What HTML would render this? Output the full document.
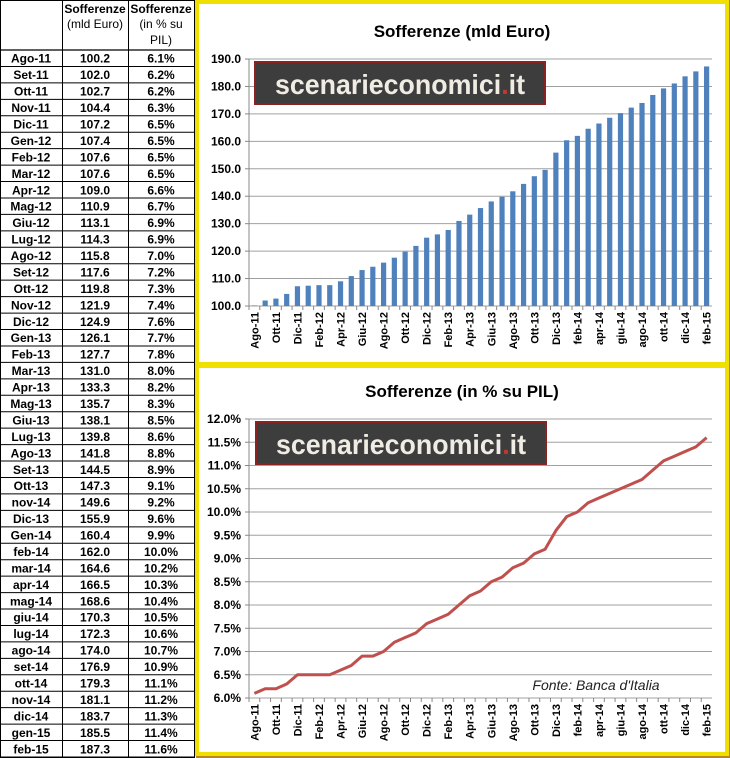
<!DOCTYPE html>
<html><head><meta charset="utf-8"><style>
body{margin:0;width:730px;height:758px;overflow:hidden;background:#fff;font-family:"Liberation Sans",Arial,sans-serif}
svg{position:absolute;left:0;top:0}
</style></head><body>
<svg id="s" width="730" height="758" xmlns="http://www.w3.org/2000/svg"></svg>
<script>
const months=["Ago-11","Set-11","Ott-11","Nov-11","Dic-11","Gen-12","Feb-12","Mar-12","Apr-12","Mag-12","Giu-12","Lug-12","Ago-12","Set-12","Ott-12","Nov-12","Dic-12","Gen-13","Feb-13","Mar-13","Apr-13","Mag-13","Giu-13","Lug-13","Ago-13","Set-13","Ott-13","nov-14","Dic-13","Gen-14","feb-14","mar-14","apr-14","mag-14","giu-14","lug-14","ago-14","set-14","ott-14","nov-14","dic-14","gen-15","feb-15"];
const axisLabels=["Ago-11","Set-11","Ott-11","Nov-11","Dic-11","Gen-12","Feb-12","Mar-12","Apr-12","Mag-12","Giu-12","Lug-12","Ago-12","Set-12","Ott-12","Nov-12","Dic-12","Gen-13","Feb-13","Mar-13","Apr-13","Mag-13","Giu-13","Lug-13","Ago-13","Set-13","Ott-13","Nov-13","Dic-13","Gen-14","feb-14","mar-14","apr-14","mag-14","giu-14","lug-14","ago-14","set-14","ott-14","nov-14","dic-14","gen-15","feb-15"];
const euro=[100.2,102.0,102.7,104.4,107.2,107.4,107.6,107.6,109.0,110.9,113.1,114.3,115.8,117.6,119.8,121.9,124.9,126.1,127.7,131.0,133.3,135.7,138.1,139.8,141.8,144.5,147.3,149.6,155.9,160.4,162.0,164.6,166.5,168.6,170.3,172.3,174.0,176.9,179.3,181.1,183.7,185.5,187.3];
const pil=[6.1,6.2,6.2,6.3,6.5,6.5,6.5,6.5,6.6,6.7,6.9,6.9,7.0,7.2,7.3,7.4,7.6,7.7,7.8,8.0,8.2,8.3,8.5,8.6,8.8,8.9,9.1,9.2,9.6,9.9,10.0,10.2,10.3,10.4,10.5,10.6,10.7,10.9,11.1,11.2,11.3,11.4,11.6];
const euroTicks=[100,110,120,130,140,150,160,170,180,190];
const pilTicks=[6,6.5,7,7.5,8,8.5,9,9.5,10,10.5,11,11.5,12];

const S=document.getElementById('s'),NS='http://www.w3.org/2000/svg';
function mk(t,a,txt){const e=document.createElementNS(NS,t);for(const k in a)e.setAttribute(k,a[k]);if(txt!=null)e.textContent=txt;S.appendChild(e);return e;}
const fmt1=v=>v.toFixed(1);

const rowTop=50,rh=707/43;
let e;
e=mk('rect',{x:0.5,y:0.5,width:194,height:757,fill:'#fff',stroke:'#000','stroke-width':1});


e=mk('text',{x:95,y:13,'text-anchor':'middle','font-size':12,'font-weight':'bold'},'Sofferenze');


e=mk('text',{x:95,y:28,'text-anchor':'middle','font-size':12},'(mld Euro)');


e=mk('text',{x:161,y:13,'text-anchor':'middle','font-size':12,'font-weight':'bold'},'Sofferenze');


e=mk('text',{x:161,y:28,'text-anchor':'middle','font-size':12},'(in % su');


e=mk('text',{x:161,y:44,'text-anchor':'middle','font-size':12},'PIL)');


[62,128].forEach(x=>mk('line',{x1:x+.5,y1:0,x2:x+.5,y2:758,stroke:'#000','stroke-width':1}));
mk('line',{x1:0,y1:rowTop,x2:195,y2:rowTop,stroke:'#000','stroke-width':1.2});
months.forEach((m,i)=>{
  const y=rowTop+i*rh;
  mk('line',{x1:0,y1:y+rh,x2:195,y2:y+rh,stroke:'#000','stroke-width':1});
  const cy=y+rh/2+4.5;
  e=mk('text',{x:31,y:cy,'text-anchor':'middle','font-size':12,'font-weight':'bold'},m);
  
  
  e=mk('text',{x:95,y:cy,'text-anchor':'middle','font-size':12,'font-weight':'bold'},fmt1(euro[i]));
  
  
  e=mk('text',{x:161,y:cy,'text-anchor':'middle','font-size':12,'font-weight':'bold'},fmt1(pil[i])+'%');
  
  
});

e=mk('rect',{x:196,y:0,width:534,height:758,fill:'#b8862a'});


e=mk('rect',{x:197,y:2,width:530,height:362,fill:'#fff',stroke:'#f0e000','stroke-width':4});


e=mk('rect',{x:197,y:366,width:530,height:388,fill:'#fff',stroke:'#f0e000','stroke-width':4});



const X0=249,X1=712,bw=(X1-X0)/43;
const xc=i=>X0+bw*(i+.5);

const yE=v=>306-(v-100)*2.744;
e=mk('text',{x:462,y:37,'text-anchor':'middle','font-size':17,'font-weight':'bold'},'Sofferenze (mld Euro)');


euroTicks.forEach(t=>{
  const y=yE(t);
  mk('line',{x1:X0,y1:y,x2:X1,y2:y,stroke:'#a0a0a0','stroke-width':1});
  mk('line',{x1:X0-4,y1:y,x2:X0,y2:y,stroke:'#888'});
  e=mk('text',{x:X0-8,y:y+4,'text-anchor':'end','font-size':12,'font-weight':'bold'},fmt1(t));
  
  
});
mk('line',{x1:X0,y1:yE(100),x2:X0,y2:yE(190),stroke:'#888'});
euro.forEach((v,i)=>{
  e=mk('rect',{x:xc(i)-2.6,y:yE(v),width:5.2,height:yE(100)-yE(v),fill:'#4f81bd'});
  
  
});
function xLabels(y0){
  axisLabels.forEach((m,i)=>{
    mk('line',{x1:X0+bw*i,y1:y0,x2:X0+bw*i,y2:y0+4,stroke:'#888'});
    if(i%2===0){
      e=mk('text',{x:0,y:0,'text-anchor':'end','font-size':11,'font-weight':'bold',transform:`translate(${xc(i)+4},${y0+6}) rotate(-90)`},m);
      
      
    }
  });
}
xLabels(yE(100));
function watermark(x,y){
  e=mk('rect',{x:x,y:y,width:290,height:42,fill:'#3d3d3d',stroke:'#8b2222','stroke-width':2});
  
  
  const t=mk('text',{x:x+20,y:y+32,'font-size':28,fill:'#f0ece4','font-weight':'bold',textLength:250,lengthAdjust:'spacingAndGlyphs'});
  
  
  const a=document.createElementNS(NS,'tspan');a.textContent='scenarieconomici';t.appendChild(a);
  const b=document.createElementNS(NS,'tspan');b.textContent='.';b.setAttribute('fill','#c0392b');t.appendChild(b);
  const c=document.createElementNS(NS,'tspan');c.textContent='it';t.appendChild(c);
}
watermark(255,62);

const yP=p=>698-(p-6)*46.5;
e=mk('text',{x:462,y:397,'text-anchor':'middle','font-size':17,'font-weight':'bold'},'Sofferenze (in % su PIL)');


pilTicks.forEach(t=>{
  const y=yP(t);
  mk('line',{x1:X0,y1:y,x2:X1,y2:y,stroke:'#a0a0a0','stroke-width':1});
  mk('line',{x1:X0-4,y1:y,x2:X0,y2:y,stroke:'#888'});
  e=mk('text',{x:X0-8,y:y+4,'text-anchor':'end','font-size':12,'font-weight':'bold'},fmt1(t)+'%');
  
  
});
mk('line',{x1:X0,y1:yP(6),x2:X0,y2:yP(12),stroke:'#888'});
xLabels(yP(6));
e=mk('polyline',{points:pil.map((p,i)=>xc(i)+','+yP(p)).join(' '),fill:'none',stroke:'#c0504d','stroke-width':3,'stroke-linejoin':'round'});


watermark(256,422);
e=mk('text',{x:596,y:690,'text-anchor':'middle','font-size':14,'font-style':'italic',fill:'#222'},"Fonte: Banca d'Italia");


</script>
</body></html>
